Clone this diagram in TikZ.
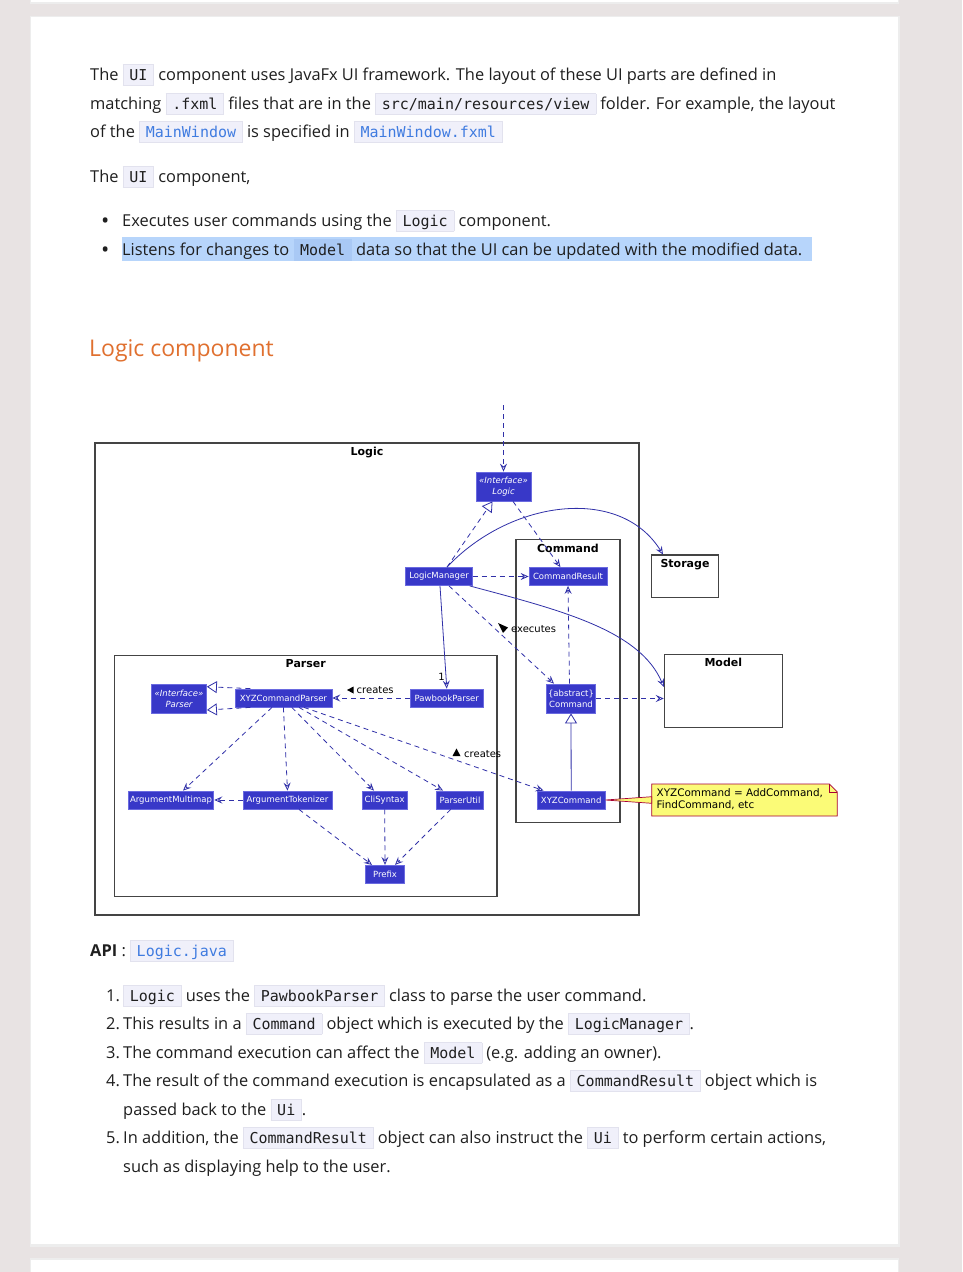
\documentclass[tikz,border=0pt]{standalone}
\usepackage{fontspec}
\setmainfont{Open Sans}
\setmonofont{DejaVu Sans Mono}
\newfontfamily\umlfont{DejaVu Sans}
\usetikzlibrary{arrows.meta, positioning, calc}

\definecolor{pagebg}{HTML}{E8E3E3}
\definecolor{bodytext}{HTML}{1F1F1F}
\definecolor{codebg}{HTML}{F0F0FA}
\definecolor{codeline}{HTML}{E2E2EE}
\definecolor{linkblue}{HTML}{3F7BE0}
\definecolor{selbg}{HTML}{B7D5FB}
\definecolor{selcode}{HTML}{A9C9F5}
\definecolor{headorange}{HTML}{E0702F}
\definecolor{classfill}{HTML}{3838C8}
\definecolor{classline}{HTML}{6A6AE0}
\definecolor{arrc}{HTML}{3030A8}
\definecolor{pkgline}{HTML}{444444}
\definecolor{notefill}{HTML}{FBFB77}
\definecolor{notered}{HTML}{A80036}

\newcommand\bodyfont{\fontsize{16.4}{19}\selectfont}
\newcommand\codefont{\fontsize{15}{17}\ttfamily}
\newcommand\cd[1]{{\setlength\fboxsep{0pt}\setlength\fboxrule{0.6pt}%
  \fcolorbox{codeline}{codebg}{\rule[-5pt]{0pt}{20pt}\hspace{6pt}\codefont #1\hspace{6pt}}}}
\newcommand\cdl[1]{\cd{\color{linkblue}#1}}
\newcommand\cdsel[1]{{\setlength\fboxsep{0pt}\setlength\fboxrule{0.6pt}%
  \fcolorbox{selcode}{selcode}{\rule[-5pt]{0pt}{20pt}\hspace{6pt}\codefont #1\hspace{6pt}}}}

\begin{document}
\begin{tikzpicture}[x=1pt, y=-1pt,
    every node/.style={inner sep=0pt},
    txt/.style={anchor=base west, font=\bodyfont, text=bodytext},
    cls/.style={draw=classline, fill=classfill, text=white, line width=0.8pt, minimum height=18pt,
      inner sep=1pt, font=\umlfont\fontsize{8.5}{10}\selectfont},
    icls/.style={cls, minimum height=29pt, align=center, font=\umlfont\fontsize{8.5}{11}\selectfont},
    pkg/.style={draw=pkgline, line width=1.1pt},
    pkgtitle/.style={anchor=north, font=\umlfont\bfseries\fontsize{11}{13}\selectfont},
    dep/.style={draw=arrc, line width=0.8pt, dash pattern=on 5pt off 4pt,
      -{Stealth[open, length=8pt, width=7pt, inset=3pt]}},
    assoc/.style={draw=arrc, line width=0.8pt, -{Stealth[open, length=8pt, width=7pt, inset=3pt]}},
    real/.style={draw=arrc, line width=0.8pt, dash pattern=on 5pt off 4pt,
      -{Triangle[open, length=10pt, width=12pt]}},
    gen/.style={draw=arrc, line width=0.8pt, -{Triangle[open, length=10pt, width=12pt]}},
    lbl/.style={font=\umlfont\fontsize{10}{12}\selectfont}
]
\useasboundingbox (0,0) rectangle (962,1272);
\fill[pagebg] (0,0) rectangle (962,1272);
% cards
\fill[black!7] (30,-10) rectangle (899,3.5);
\fill[white] (31,-10) rectangle (898,2);
\fill[black!7] (29.5,16) rectangle (899.5,1246.5);
\fill[white] (31,17) rectangle (898,1244);
\fill[black!7] (30,1258) rectangle (899,1280);
\fill[white] (31,1259.5) rectangle (898,1280);

% UI text
\node[txt] (p1) at (90,80) {The \cd{UI} component uses JavaFx UI framework. The layout of these UI parts are defined in};
\node[txt] (p2) at (90,109) {matching \cd{.fxml} files that are in the \cd{src/main/resources/view} folder. For example, the layout};
\node[txt] (p3) at (90,137) {of the \cdl{MainWindow} is specified in \cdl{MainWindow.fxml}};
\node[txt] (p4) at (90,182) {The \cd{UI} component,};
\fill[selbg] (122,237) rectangle (812,261);
\foreach \y in {226,255}
  \node[txt, font=\fontsize{22}{22}\selectfont] (dot\y) at (101,\y+2) {•};
\node[txt] (b1) at (122,226) {Executes user commands using the \cd{Logic} component.};
\node[txt] (b2) at (122,255) {Listens for changes to \cdsel{Model} data so that the UI can be updated with the modified data.};
\node[txt, font=\fontsize{23}{28}\selectfont, text=headorange] (head) at (89,356) {Logic component};

% packages
\node[pkg, minimum width=544pt, minimum height=472pt] (logic) at (367,679) {};
\node[pkg, minimum width=104pt, minimum height=283pt] (command) at (568,681) {};
\node[pkg, minimum width=382.5pt, minimum height=241pt] (parser) at (305.75,776) {};
\node[pkg, minimum width=66.6pt, minimum height=42.7pt] (storage) at (685,576.35) {};
\node[pkg, minimum width=118pt, minimum height=73pt] (model) at (723.3,690.8) {};
\foreach \p/\t in {logic/Logic, command/Command, parser/Parser, storage/Storage, model/Model}
  \node[pkgtitle] (\p title) at ([yshift=-4.5pt]\p.north) {\t};

% classes
\foreach \nm/\x/\y/\w/\t in {lmgr/439/576.5/66.5/LogicManager, cres/568/576.5/78/CommandResult,
    xyzparser/283.4/698/97/XYZCommandParser, pawbook/446.8/698/73.6/PawbookParser,
    argmm/171/800/85.7/ArgumentMultimap, argtok/287.5/800/89.2/ArgumentTokenizer,
    cli/384.7/800/44.5/CliSyntax, putil/460/800/47.2/ParserUtil,
    prefix/385/874.3/38.6/Prefix, xyzcmd/571.2/800/67.5/XYZCommand}
  \node[cls, minimum width=\w pt] (\nm) at (\x,\y) {\t};
\node[icls, minimum width=55pt] (ilogic) at (503.5,486.5) {\itshape «Interface»\\\itshape Logic};
\node[icls, minimum width=55pt] (iparser) at (179,698.5) {\itshape «Interface»\\\itshape Parser};
\node[icls, minimum width=49.3pt] (cmd) at (571,698.5) {\{abstract\}\\Command};

% Logic relations
\coordinate (ui) at (503.5,405);
\draw[dep] (ui) -- (ilogic.north);
\draw[real] ([xshift=8pt]lmgr.north) -- ([xshift=-11pt]ilogic.south);
\draw[dep] ([xshift=9.5pt]ilogic.south) -- ([xshift=-7.6pt]cres.north);
\draw[dep] (lmgr.east) -- (cres.west);
\draw[assoc] ([xshift=8pt]lmgr.north) .. controls (510,500) and (620,485) .. ([xshift=-22pt]storage.north);
\draw[assoc] ([xshift=-3pt]lmgr.south east) .. controls (560,610) and (640,630) .. ([yshift=4pt]model.west);
\draw[assoc] ([xshift=1pt]lmgr.south) -- (pawbook.north);
\node[lbl] (one) at (441.5,677) {1};
\draw[dep] ([xshift=10pt]lmgr.south) -- ([xshift=-17pt]cmd.north);
\fill (498,623) -- (508,627.5) -- (503,633) -- cycle;
\node[lbl, anchor=west] (exlbl) at (511,629.5) {executes};
\draw[dep] ([xshift=-1.5pt]cmd.north) -- (cres.south);
\draw[dep] (cmd.east) -- (cmd.east -| model.west);
\draw[gen] (xyzcmd.north) -- (cmd.south);

% Parser relations
\draw[dep] (pawbook.west) -- (xyzparser.east);
\fill (347,690) -- (353.5,686.5) -- (353.5,693.5) -- cycle;
\node[lbl, anchor=west] (crlbl) at (356.5,690.5) {creates};
\draw[real] ([xshift=-33pt]xyzparser.north) -- ([yshift=11.8pt]iparser.east);
\draw[real] ([xshift=-33pt]xyzparser.south) -- ([yshift=-11.5pt]iparser.east);
\draw[dep] ([xshift=-11.4pt]xyzparser.south) -- ([xshift=12pt]argmm.north);
\draw[dep] (xyzparser.south) -- (argtok.north);
\draw[dep] ([xshift=8.4pt]xyzparser.south) -- ([xshift=-10.7pt]cli.north);
\draw[dep] ([xshift=15.6pt]xyzparser.south) -- ([xshift=-17pt]putil.north);
\draw[dep] ([xshift=20.6pt]xyzparser.south) -- ([xshift=-27.6pt]xyzcmd.north);
\fill (456.5,748.5) -- (460.5,756) -- (452.5,756) -- cycle;
\node[lbl, anchor=west] (crlbl2) at (464,754.5) {creates};
\draw[dep] (argtok.west) -- (argmm.east);
\draw[dep] ([xshift=11.5pt]argtok.south) -- ([xshift=-13pt]prefix.north);
\draw[dep] (cli.south) -- (prefix.north);
\draw[dep] ([xshift=-9.3pt]putil.south) -- ([xshift=10pt]prefix.north);

% note
\filldraw[fill=notefill, draw=notered, line width=0.7pt]
  (651.7,784) -- (829.3,784) -- (837.3,792) -- (837.3,816) -- (651.7,816) -- cycle;
\draw[notered, line width=0.7pt] (829.3,784) -- (829.3,792) -- (837.3,792);
\coordinate (notew) at (651.7,800);
\filldraw[fill=notefill, draw=notered, line width=0.7pt]
  (xyzcmd.east) -- ([yshift=3.3pt]notew) -- ([yshift=-3.3pt]notew) -- cycle;
\node[anchor=north west, align=left, font=\umlfont\fontsize{10.4}{11.5}\selectfont] (note) at (656.5,788.5)
  {XYZCommand = AddCommand,\\FindCommand, etc};

% API text
\node[txt] (api) at (90,956) {\textbf{API} : \cdl{Logic.java}};
\foreach \n/\y in {1/1001, 2/1029, 3/1058, 4/1086, 5/1143}
  \node[txt] (num\n) at (106,\y) {\n.};
\node[txt] (l1) at (123,1001) {\cd{Logic} uses the \cd{PawbookParser} class to parse the user command.};
\node[txt] (l2) at (123,1029) {This results in a \cd{Command} object which is executed by the \cd{LogicManager}.};
\node[txt] (l3) at (123,1058) {The command execution can affect the \cd{Model} (e.g. adding an owner).};
\node[txt] (l4) at (123,1086) {The result of the command execution is encapsulated as a \cd{CommandResult} object which is};
\node[txt] (l4b) at (123,1115) {passed back to the \cd{Ui}.};
\node[txt] (l5) at (123,1143) {In addition, the \cd{CommandResult} object can also instruct the \cd{Ui} to perform certain actions,};
\node[txt] (l5b) at (123,1172) {such as displaying help to the user.};
\end{tikzpicture}
\end{document}
